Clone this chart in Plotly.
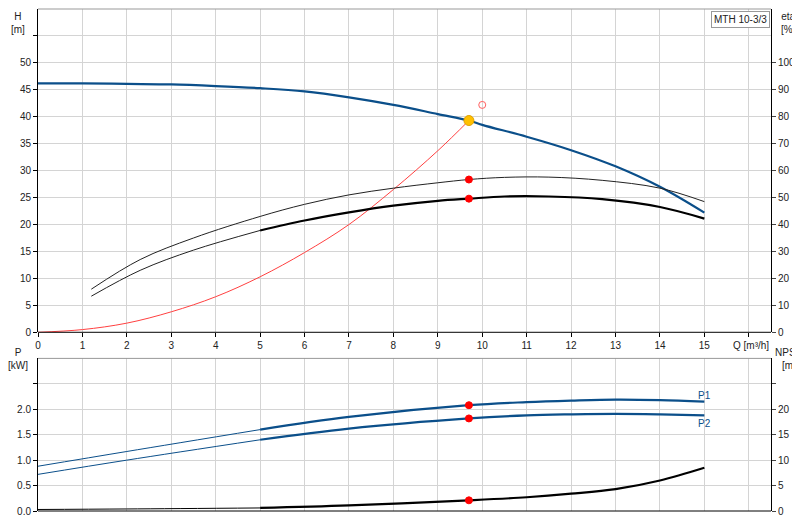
import plotly.graph_objects as go

q_h = [0, 1, 2, 3, 4, 5, 6, 7, 8, 9, 9.7, 10, 11, 12, 13, 14, 15]
h = [46.2, 46.2, 46.1, 46.0, 45.7, 45.3, 44.7, 43.6, 42.2, 40.5, 39.3, 38.5, 36.3, 33.8, 30.8, 27.0, 22.2]
q_sys = [0, 1, 2, 3, 4, 5, 6, 7, 8, 9, 9.7]
h_sys = [0, 0.5, 1.7, 3.8, 6.6, 10.3, 14.8, 20.0, 26.5, 33.7, 39.3]
q_eta = [1.2, 2.3, 3.5, 5, 6, 7, 8, 9, 9.7, 10.5, 11.5, 12.7, 14, 15]
eta_pump = [13.4, 23, 30.5, 37.8, 41.5, 44.5, 47, 48.8, 49.6, 50.4, 50.4, 49.4, 46.5, 42.2]
eta_hyd = [16, 27, 35, 43, 47.5, 51, 53.5, 55.5, 56.7, 57.5, 57.6, 56.4, 53.5, 48.5]
q_p = [0, 2, 5, 7, 9.7, 11, 12, 13, 14, 15]
p1 = [0.88, 1.17, 1.6, 1.85, 2.08, 2.14, 2.17, 2.19, 2.18, 2.15]
p2 = [0.72, 1.0, 1.4, 1.62, 1.82, 1.88, 1.9, 1.91, 1.9, 1.88]
npsh = [0.3, 0.4, 0.6, 1.1, 2.1, 2.7, 3.4, 4.3, 6.0, 8.5]
op_q, op_h, op_eta_h, op_eta_p, op_p1, op_p2, op_npsh = 9.7, 39.3, 56.7, 49.6, 2.08, 1.82, 2.1
req_q, req_h = 10, 42.2
x_ticks = list(range(0, 17))

BLUE = "#0b4f8a"
fig = go.Figure()

def split(xs, ys, x0=5):
    a = [(x, y) for x, y in zip(xs, ys) if x <= x0]
    b = [(x, y) for x, y in zip(xs, ys) if x >= x0]
    return [p[0] for p in a], [p[1] for p in a], [p[0] for p in b], [p[1] for p in b]

def line(x, y, color, w, xa="x", ya="y"):
    fig.add_trace(go.Scatter(x=x, y=y, mode="lines", line=dict(color=color, width=w, shape="spline"),
                             xaxis=xa, yaxis=ya, showlegend=False, hoverinfo="skip"))

line(q_h, h, BLUE, 2.2)
line(q_sys, h_sys, "#ff4040", 1)
line(q_eta, eta_hyd, "#222", 1, ya="y2")
a, b, c, d = split(q_eta, eta_pump)
line(a, b, "#222", 1, ya="y2")
line(c, d, "#000", 2.2, ya="y2")
for ys, ya, col in [(p1, "y3", BLUE), (p2, "y3", BLUE), (npsh, "y4", "#000")]:
    a, b, c, d = split(q_p, ys)
    line(a, b, col, 1, xa="x2", ya=ya)
    line(c, d, col, 2.2, xa="x2", ya=ya)

def dot(x, y, color, xa="x", ya="y", size=8, sym="circle", lc=None):
    fig.add_trace(go.Scatter(x=[x], y=[y], mode="markers", xaxis=xa, yaxis=ya, showlegend=False,
                             marker=dict(color=color, size=size, symbol=sym,
                                         line=dict(color=lc or color, width=1))))

dot(req_q, req_h, "#ff6060", sym="circle-open", size=7)
dot(op_q, op_h, "#ffc000", size=10, lc="#e0a000")
dot(op_q, op_eta_h, "#ff0000", ya="y2", size=7)
dot(op_q, op_eta_p, "#ff0000", ya="y2", size=7)
dot(op_q, op_p1, "#ff0000", xa="x2", ya="y3", size=7)
dot(op_q, op_p2, "#ff0000", xa="x2", ya="y3", size=7)
dot(op_q, op_npsh, "#ff0000", xa="x2", ya="y4", size=7)

grid = "#d4d4d4"
font = dict(family="Liberation Sans, Arial", size=10, color="#222")
common = dict(showgrid=True, gridcolor=grid, gridwidth=1, zeroline=False, ticks="outside",
              ticklen=4, tickcolor="#000", automargin=False)
fig.update_layout(
    width=800, height=520, margin=dict(l=30, r=37, t=1, b=17, autoexpand=False),
    plot_bgcolor="white", paper_bgcolor="white", font=font,
    xaxis=dict(range=[0, 16.5], tickvals=x_ticks, ticktext=[str(v) if v <= 15 else "" for v in x_ticks],
               domain=[0, 1], anchor="y", showline=False, **common),
    xaxis2=dict(range=[0, 16.5], tickvals=x_ticks, showticklabels=False, domain=[0, 1], anchor="y3",
                showline=False, showgrid=True, gridcolor=grid, zeroline=False, ticks="", automargin=False),
    yaxis=dict(range=[0, 60], tickvals=list(range(0, 60, 5)), ticktext=[str(v) for v in range(0, 55, 5)] + [""],
               domain=[0.356, 1], showline=True, linecolor="#000", mirror=False, **common),
    yaxis2=dict(range=[0, 120], tickvals=list(range(0, 110, 10)), overlaying="y", side="right",
                anchor="x", showgrid=False, showline=True, linecolor="#000", ticks="outside",
                ticklen=4, zeroline=False, automargin=False),
    yaxis3=dict(range=[0, 3], tickvals=[0, 0.5, 1, 1.5, 2, 2.5], ticktext=["0.0", "0.5", "1.0", "1.5", "2.0", ""],
                domain=[0, 0.304], anchor="x2", showline=True, linecolor="#000", **common),
    yaxis4=dict(range=[0, 30], tickvals=[0, 5, 10, 15, 20, 25], ticktext=["0", "5", "10", "15", "20", ""],
                overlaying="y3", side="right", anchor="x2", showgrid=False, showline=True,
                linecolor="#000", ticks="outside", ticklen=4, zeroline=False, automargin=False),
)
fig.add_shape(type="line", xref="paper", yref="paper", x0=0, x1=1, y0=1, y1=1, line=dict(color="#999", width=1))
fig.add_shape(type="line", xref="paper", yref="paper", x0=0, x1=1, y0=0.304, y1=0.304, line=dict(color="#999", width=1))
fig.add_shape(type="line", xref="paper", yref="paper", x0=0, x1=1, y0=0.356, y1=0.356, line=dict(color="#000", width=1))
fig.add_shape(type="line", xref="paper", yref="paper", x0=0, x1=1, y0=0, y1=0, line=dict(color="#000", width=1))

def ann(text, x, y, xanchor="center", yanchor="top", xref="paper", yref="paper", **kw):
    fig.add_annotation(text=text, x=x, y=y, xref=xref, yref=yref, xanchor=xanchor, yanchor=yanchor,
                       showarrow=False, font=font, **kw)

ann("H<br>[m]", -0.027, 1.0)
ann("eta<br>[%]", 1.024, 1.0)
ann("P<br>[kW]", -0.027, 0.33)
ann("NPSH<br>[m]", 1.024, 0.33)
ann("Q [m³/h]", 1.0, 0.345, xanchor="right")
ann("MTH 10-3/3", 0.998, 0.997, xanchor="right", bordercolor="#999", borderwidth=1, bgcolor="white", borderpad=2)
ann("P1", 15, 2.27, xref="x2", yref="y3", yanchor="middle", font_color=BLUE)
ann("P2", 15, 1.72, xref="x2", yref="y3", yanchor="middle", font_color=BLUE)

fig.write_html("out.html")
